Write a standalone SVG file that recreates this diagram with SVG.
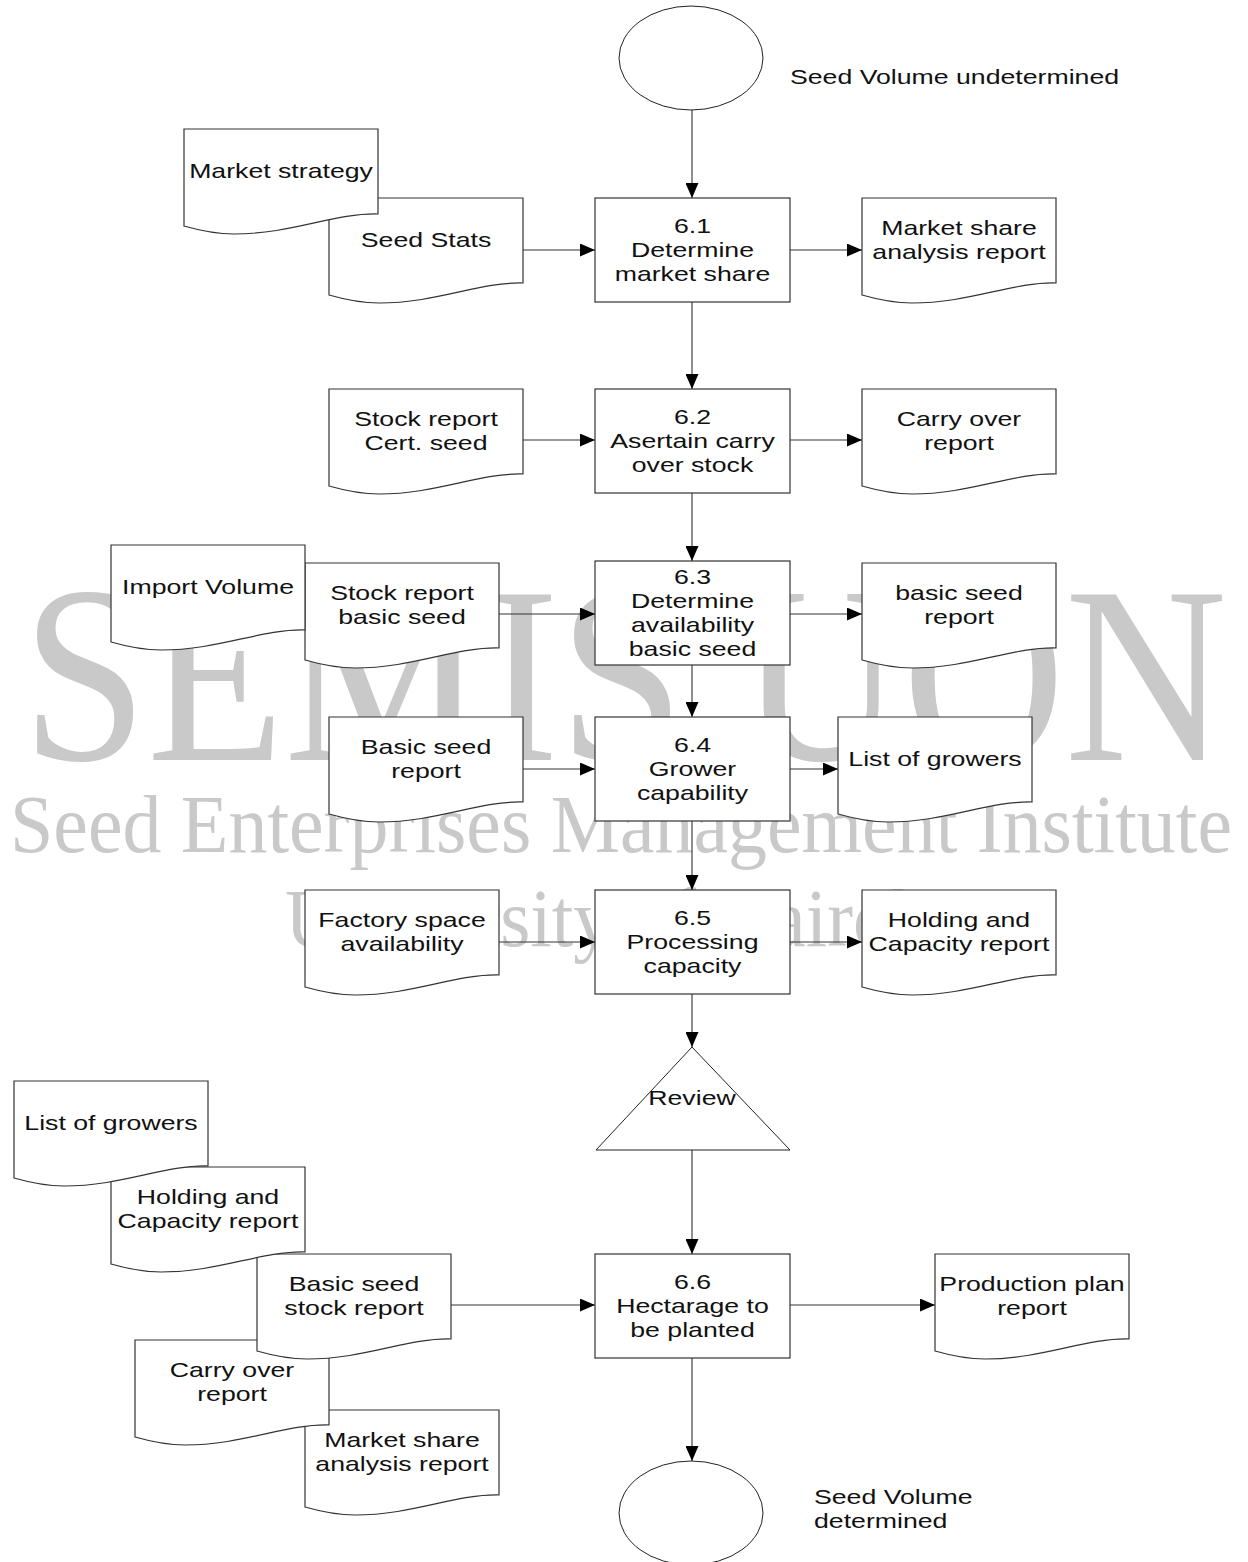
<svg xmlns="http://www.w3.org/2000/svg" xmlns:xlink="http://www.w3.org/1999/xlink" width="1248" height="1562" viewBox="0 0 1248 1562">
<style>
.wm{font-family:"Liberation Serif","Times New Roman",serif;fill:#c9c9c9}
.doc{fill:#fff;stroke:#333;stroke-width:1.2}
.box{fill:#fff;stroke:#333;stroke-width:1.2}
.term{fill:#fff;stroke:#222;stroke-width:1}
.t{font-family:"Liberation Sans",Arial,sans-serif;font-size:21px;fill:#111}
.c{text-anchor:middle}
.con{fill:none;stroke:#333;stroke-width:1.1}
</style>
<defs>
<path id="docShape" d="M0,0 H194 V85 C150,84 108,105 50,105 C30,105 14,101 0,97 Z"/>
<marker id="arr" markerUnits="userSpaceOnUse" markerWidth="15" markerHeight="13" viewBox="0 0 15 13" refX="15" refY="6.5" orient="auto">
<path d="M0,0 L15,6.5 L0,13 Z" fill="#000"/>
</marker>
</defs>
<rect width="1248" height="1562" fill="#fff"/>
<g id="watermark">
<text class="wm" x="22" y="760" font-size="252" textLength="1205" lengthAdjust="spacingAndGlyphs">SEMIS UON</text>
<text class="wm" x="10" y="852" font-size="82" textLength="1222" lengthAdjust="spacingAndGlyphs">Seed Enterprises Management Institute</text>
<text class="wm" x="285" y="946" font-size="82" textLength="667" lengthAdjust="spacingAndGlyphs">University of Nairobi</text>
</g>
<g id="connectors">
<line class="con" x1="692" y1="110" x2="692" y2="198" marker-end="url(#arr)"/>
<line class="con" x1="692" y1="302" x2="692" y2="389" marker-end="url(#arr)"/>
<line class="con" x1="692" y1="493" x2="692" y2="561" marker-end="url(#arr)"/>
<line class="con" x1="692" y1="665" x2="692" y2="717" marker-end="url(#arr)"/>
<line class="con" x1="692" y1="821" x2="692" y2="890" marker-end="url(#arr)"/>
<line class="con" x1="692" y1="994" x2="692" y2="1047" marker-end="url(#arr)"/>
<line class="con" x1="692" y1="1150" x2="692" y2="1254" marker-end="url(#arr)"/>
<line class="con" x1="692" y1="1358" x2="692" y2="1461" marker-end="url(#arr)"/>
<line class="con" x1="523" y1="250" x2="595" y2="250" marker-end="url(#arr)"/>
<line class="con" x1="790" y1="250" x2="862" y2="250" marker-end="url(#arr)"/>
<line class="con" x1="523" y1="440" x2="595" y2="440" marker-end="url(#arr)"/>
<line class="con" x1="790" y1="440" x2="862" y2="440" marker-end="url(#arr)"/>
<line class="con" x1="499" y1="614" x2="595" y2="614" marker-end="url(#arr)"/>
<line class="con" x1="790" y1="614" x2="862" y2="614" marker-end="url(#arr)"/>
<line class="con" x1="523" y1="769" x2="595" y2="769" marker-end="url(#arr)"/>
<line class="con" x1="790" y1="769" x2="838" y2="769" marker-end="url(#arr)"/>
<line class="con" x1="499" y1="942" x2="595" y2="942" marker-end="url(#arr)"/>
<line class="con" x1="790" y1="942" x2="862" y2="942" marker-end="url(#arr)"/>
<line class="con" x1="451" y1="1305" x2="595" y2="1305" marker-end="url(#arr)"/>
<line class="con" x1="790" y1="1305" x2="935" y2="1305" marker-end="url(#arr)"/>
</g>
<g id="start">
<ellipse class="term" cx="691" cy="58" rx="72" ry="52"/>
<text class="t" transform="translate(790 0) scale(1.27 1)" x="0" y="84">Seed Volume undetermined</text>
</g>
<g id="doc-seed-stats">
<use href="#docShape" class="doc" x="329" y="198"/>
<text class="t c" transform="translate(426 0) scale(1.27 1)" x="0" y="247">Seed Stats</text>
</g>
<g id="doc-market-strategy">
<use href="#docShape" class="doc" x="184" y="129"/>
<text class="t c" transform="translate(281 0) scale(1.27 1)" x="0" y="178">Market strategy</text>
</g>
<g id="p61">
<rect class="box" x="595" y="198" width="195" height="104"/>
<text class="t c" transform="translate(692.5 0) scale(1.27 1)"><tspan x="0" y="233">6.1</tspan><tspan x="0" y="257">Determine</tspan><tspan x="0" y="281">market share</tspan></text>
</g>
<g id="doc-market-share-1">
<use href="#docShape" class="doc" x="862" y="198"/>
<text class="t c" transform="translate(959 0) scale(1.27 1)"><tspan x="0" y="235">Market share</tspan><tspan x="0" y="259">analysis report</tspan></text>
</g>
<g id="doc-stock-cert">
<use href="#docShape" class="doc" x="329" y="389"/>
<text class="t c" transform="translate(426 0) scale(1.27 1)"><tspan x="0" y="426">Stock report</tspan><tspan x="0" y="450">Cert. seed</tspan></text>
</g>
<g id="p62">
<rect class="box" x="595" y="389" width="195" height="104"/>
<text class="t c" transform="translate(692.5 0) scale(1.27 1)"><tspan x="0" y="424">6.2</tspan><tspan x="0" y="448">Asertain carry</tspan><tspan x="0" y="472">over stock</tspan></text>
</g>
<g id="doc-carry-over-1">
<use href="#docShape" class="doc" x="862" y="389"/>
<text class="t c" transform="translate(959 0) scale(1.27 1)"><tspan x="0" y="426">Carry over</tspan><tspan x="0" y="450">report</tspan></text>
</g>
<g id="doc-stock-basic">
<use href="#docShape" class="doc" x="305" y="563"/>
<text class="t c" transform="translate(402 0) scale(1.27 1)"><tspan x="0" y="600">Stock report</tspan><tspan x="0" y="624">basic seed</tspan></text>
</g>
<g id="doc-import-volume">
<use href="#docShape" class="doc" x="111" y="545"/>
<text class="t c" transform="translate(208 0) scale(1.27 1)" x="0" y="594">Import Volume</text>
</g>
<g id="p63">
<rect class="box" x="595" y="561" width="195" height="104"/>
<text class="t c" transform="translate(692.5 0) scale(1.27 1)"><tspan x="0" y="584">6.3</tspan><tspan x="0" y="608">Determine</tspan><tspan x="0" y="632">availability</tspan><tspan x="0" y="656">basic seed</tspan></text>
</g>
<g id="doc-basic-seed-report-1">
<use href="#docShape" class="doc" x="862" y="563"/>
<text class="t c" transform="translate(959 0) scale(1.27 1)"><tspan x="0" y="600">basic seed</tspan><tspan x="0" y="624">report</tspan></text>
</g>
<g id="doc-basic-seed-report-2">
<use href="#docShape" class="doc" x="329" y="717"/>
<text class="t c" transform="translate(426 0) scale(1.27 1)"><tspan x="0" y="754">Basic seed</tspan><tspan x="0" y="778">report</tspan></text>
</g>
<g id="p64">
<rect class="box" x="595" y="717" width="195" height="104"/>
<text class="t c" transform="translate(692.5 0) scale(1.27 1)"><tspan x="0" y="752">6.4</tspan><tspan x="0" y="776">Grower</tspan><tspan x="0" y="800">capability</tspan></text>
</g>
<g id="doc-list-growers-1">
<use href="#docShape" class="doc" x="838" y="717"/>
<text class="t c" transform="translate(935 0) scale(1.27 1)" x="0" y="766">List of growers</text>
</g>
<g id="doc-factory-space">
<use href="#docShape" class="doc" x="305" y="890"/>
<text class="t c" transform="translate(402 0) scale(1.27 1)"><tspan x="0" y="927">Factory space</tspan><tspan x="0" y="951">availability</tspan></text>
</g>
<g id="p65">
<rect class="box" x="595" y="890" width="195" height="104"/>
<text class="t c" transform="translate(692.5 0) scale(1.27 1)"><tspan x="0" y="925">6.5</tspan><tspan x="0" y="949">Processing</tspan><tspan x="0" y="973">capacity</tspan></text>
</g>
<g id="doc-holding-1">
<use href="#docShape" class="doc" x="862" y="890"/>
<text class="t c" transform="translate(959 0) scale(1.27 1)"><tspan x="0" y="927">Holding and</tspan><tspan x="0" y="951">Capacity report</tspan></text>
</g>
<g id="review">
<polygon class="term" points="692,1047 790,1150 596,1150"/>
<text class="t c" transform="translate(692 0) scale(1.27 1)" x="0" y="1105">Review</text>
</g>
<g id="doc-market-share-2">
<use href="#docShape" class="doc" x="305" y="1410"/>
<text class="t c" transform="translate(402 0) scale(1.27 1)"><tspan x="0" y="1447">Market share</tspan><tspan x="0" y="1471">analysis report</tspan></text>
</g>
<g id="doc-carry-over-2">
<use href="#docShape" class="doc" x="135" y="1340"/>
<text class="t c" transform="translate(232 0) scale(1.27 1)"><tspan x="0" y="1377">Carry over</tspan><tspan x="0" y="1401">report</tspan></text>
</g>
<g id="doc-basic-seed-stock">
<use href="#docShape" class="doc" x="257" y="1254"/>
<text class="t c" transform="translate(354 0) scale(1.27 1)"><tspan x="0" y="1291">Basic seed</tspan><tspan x="0" y="1315">stock report</tspan></text>
</g>
<g id="doc-holding-2">
<use href="#docShape" class="doc" x="111" y="1167"/>
<text class="t c" transform="translate(208 0) scale(1.27 1)"><tspan x="0" y="1204">Holding and</tspan><tspan x="0" y="1228">Capacity report</tspan></text>
</g>
<g id="doc-list-growers-2">
<use href="#docShape" class="doc" x="14" y="1081"/>
<text class="t c" transform="translate(111 0) scale(1.27 1)" x="0" y="1130">List of growers</text>
</g>
<g id="p66">
<rect class="box" x="595" y="1254" width="195" height="104"/>
<text class="t c" transform="translate(692.5 0) scale(1.27 1)"><tspan x="0" y="1289">6.6</tspan><tspan x="0" y="1313">Hectarage to</tspan><tspan x="0" y="1337">be planted</tspan></text>
</g>
<g id="doc-production-plan">
<use href="#docShape" class="doc" x="935" y="1254"/>
<text class="t c" transform="translate(1032 0) scale(1.27 1)"><tspan x="0" y="1291">Production plan</tspan><tspan x="0" y="1315">report</tspan></text>
</g>
<g id="end">
<ellipse class="term" cx="691" cy="1513" rx="72" ry="52"/>
<text class="t" transform="translate(814 0) scale(1.27 1)"><tspan x="0" y="1504">Seed Volume</tspan><tspan x="0" y="1528">determined</tspan></text>
</g>
</svg>
